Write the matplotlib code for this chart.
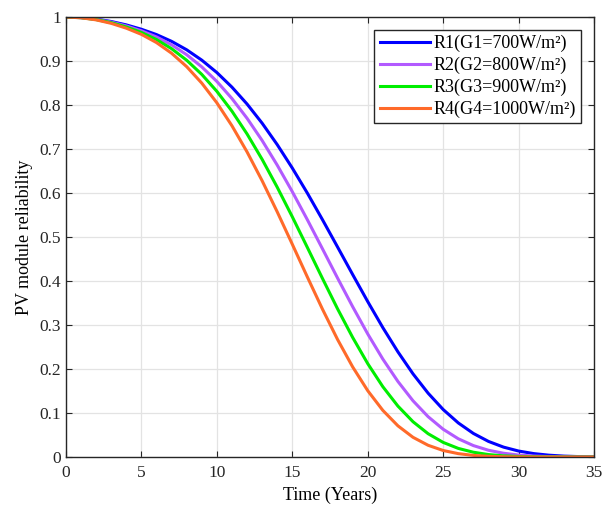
import numpy as np
import matplotlib.pyplot as plt

plt.rcParams['font.family'] = ['Liberation Serif', 'DejaVu Serif']

# Time axis (years) and reliability
years = list(range(0, 36))

r1_700 = [1.0, 0.9989, 0.9955, 0.9899, 0.9822, 0.9723, 0.9602, 0.9448, 0.9256, 0.9021,
          0.8739, 0.8407, 0.8024, 0.7588, 0.7101, 0.6568, 0.5997, 0.5394, 0.4773, 0.4148,
          0.3532, 0.2941, 0.2390, 0.1890, 0.1451, 0.1079, 0.0775, 0.0536, 0.0355, 0.0225,
          0.0136, 0.0078, 0.0042, 0.0021, 0.0010, 0.0005]
r2_800 = [1.0, 0.9987, 0.9949, 0.9886, 0.9799, 0.9688, 0.9548, 0.9369, 0.9144, 0.8868,
          0.8537, 0.8148, 0.7700, 0.7195, 0.6635, 0.6031, 0.5392, 0.4732, 0.4067, 0.3417,
          0.2797, 0.2226, 0.1717, 0.1278, 0.0917, 0.0631, 0.0415, 0.0260, 0.0154, 0.0086,
          0.0045, 0.0022, 0.0010, 0.0004, 0.0002, 0.0001]
r3_900 = [1.0, 0.9986, 0.9943, 0.9873, 0.9775, 0.9650, 0.9489, 0.9281, 0.9019, 0.8697,
          0.8312, 0.7861, 0.7344, 0.6766, 0.6133, 0.5460, 0.4762, 0.4058, 0.3368, 0.2718,
          0.2122, 0.1598, 0.1157, 0.0802, 0.0530, 0.0332, 0.0196, 0.0109, 0.0056, 0.0027,
          0.0012, 0.0005, 0.0002, 0.0001, 0.0, 0.0]
r4_1000 = [1.0, 0.9984, 0.9936, 0.9857, 0.9747, 0.9607, 0.9420, 0.9178, 0.8873, 0.8499,
           0.8051, 0.7529, 0.6936, 0.6280, 0.5573, 0.4836, 0.4090, 0.3360, 0.2671, 0.2048,
           0.1507, 0.1060, 0.0709, 0.0448, 0.0267, 0.0148, 0.0077, 0.0037, 0.0016, 0.0006,
           0.0002, 0.0, 0.0, 0.0, 0.0, 0.0]

labels = ['R1(G1=700W/m²)', 'R2(G2=800W/m²)', 'R3(G3=900W/m²)', 'R4(G4=1000W/m²)']
colors = ['#0000ff', '#b25aff', '#00ee00', '#ff6a2a']

fig = plt.figure(figsize=(6.05, 5.17), dpi=100)
ax = fig.add_axes([0.109, 0.116, 0.873, 0.851])

for r, lab, c in zip([r1_700, r2_800, r3_900, r4_1000], labels, colors):
    ax.plot(years, r, color=c, lw=2.2, label=lab)

ax.set_xlim(0, 35)
ax.set_ylim(0, 1)
ax.set_xticks(range(0, 36, 5))
ax.set_yticks(np.arange(0, 1.01, 0.1))
ax.set_yticklabels(['0', '0.1', '0.2', '0.3', '0.4', '0.5', '0.6', '0.7', '0.8', '0.9', '1'])
ax.grid(True, color='#e3e3e3', lw=0.9)
ax.set_axisbelow(True)
ax.tick_params(direction='in', top=True, right=True, labelsize=12.5, colors='#262626', length=4)
ax.tick_params(axis='x', pad=6)
for s in ax.spines.values():
    s.set_color('#262626')
    s.set_linewidth(1.0)

ax.set_xlabel('Time (Years)', fontsize=13, labelpad=4)
ax.set_ylabel('PV module reliability', fontsize=13, labelpad=5)

leg = ax.legend(loc='upper right', fontsize=13, frameon=True, fancybox=False,
                edgecolor='#262626', framealpha=1, borderpad=0.3, labelspacing=0.25,
                handlelength=2.8, handletextpad=0.2, borderaxespad=0.7)
leg.get_frame().set_linewidth(1.0)

fig.savefig('out.png', dpi=100)
